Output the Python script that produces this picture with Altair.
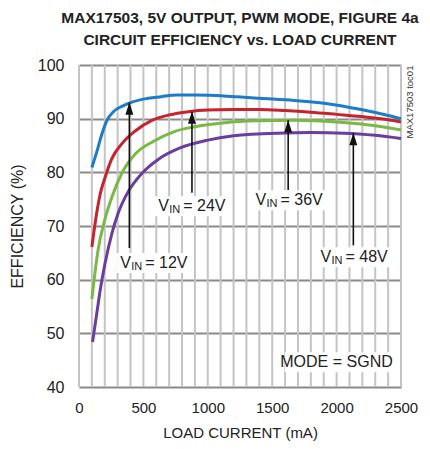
import altair as alt
import pandas as pd

# ---- data ----
ma_12 = [100, 138, 176, 215, 267, 332, 400, 490, 640, 760, 900, 1150, 1400, 1670, 1930, 2190, 2400, 2500]
eff_12 = [80.9, 83.8, 87.0, 89.6, 91.3, 92.3, 93.0, 93.6, 94.1, 94.4, 94.4, 94.2, 93.8, 93.4, 92.8, 91.7, 90.6, 90.0]

ma_24 = [100, 138, 165, 202, 254, 332, 436, 566, 700, 850, 1000, 1200, 1400, 1600, 1800, 2000, 2190, 2400, 2500]
eff_24 = [66.1, 72.5, 76.0, 79.0, 82.5, 85.3, 87.7, 89.7, 90.7, 91.3, 91.6, 91.7, 91.7, 91.5, 91.2, 90.8, 90.4, 89.8, 89.4]

ma_36 = [100, 125, 150, 202, 254, 332, 440, 580, 740, 900, 1150, 1400, 1670, 2000, 2190, 2400, 2500]
eff_36 = [56.4, 61.5, 65.8, 71.3, 75.3, 79.8, 83.5, 85.8, 87.6, 88.5, 89.3, 89.6, 89.7, 89.4, 89.0, 88.3, 87.9]

ma_48 = [105, 138, 163, 202, 254, 306, 384, 488, 620, 780, 1000, 1200, 1540, 1800, 2060, 2300, 2500]
eff_48 = [48.4, 53.7, 57.8, 63.0, 68.5, 72.5, 76.5, 79.8, 82.5, 84.5, 86.0, 86.8, 87.3, 87.4, 87.3, 86.9, 86.3]

series = ["12V", "24V", "36V", "48V"]
colors = ["#1c7cc7", "#c5232e", "#7bb844", "#6a3d9e"]

x_ticks = [0, 500, 1000, 1500, 2000, 2500]
x_minor = list(range(0, 2501, 100))
y_ticks = [40, 50, 60, 70, 80, 90, 100]

# annotation arrows: x (mA), tip (eff %), tail (eff %)
arrow_x = [391, 877, 1624, 2130]
arrow_tip = [93.0, 91.3, 89.7, 87.3]
arrow_tail = [65.9, 76.2, 76.7, 66.4]

# labels: left x (mA), centre (eff %), text after subscript
label_x = [320, 615, 1370, 1875]
label_y = [63.1, 73.7, 74.8, 64.2]
label_rest = ["= 12V", "= 24V", "= 36V", "= 48V"]

mode_text = "MODE = SGND"
mode_x = 2436
mode_y = 44.6

side_text = "MAX17503 toc01"
side_x = 2500
side_y = 93.1

title_lines = ["MAX17503, 5V OUTPUT, PWM MODE, FIGURE 4a", "CIRCUIT EFFICIENCY vs. LOAD CURRENT"]
x_title = "LOAD CURRENT (mA)"
y_title = "EFFICIENCY (%)"

FONT = "Liberation Sans, Arial, sans-serif"

# ---- tables ----
rows = []
for s, xs_, ys_ in zip(series, [ma_12, ma_24, ma_36, ma_48], [eff_12, eff_24, eff_36, eff_48]):
    for a, b in zip(xs_, ys_):
        rows.append({"series": s, "ma": a, "eff": b})
curves = pd.DataFrame(rows)
arrows = pd.DataFrame({"x": arrow_x, "tip": arrow_tip, "tail": arrow_tail})
labels = pd.DataFrame({"x": label_x, "y": label_y, "rest": label_rest})
mode_df = pd.DataFrame({"x": [mode_x], "y": [mode_y], "t": [mode_text]})
side_df = pd.DataFrame({"x": [side_x], "y": [side_y], "t": [side_text]})
grid_df = pd.DataFrame({"g": x_minor})

xs = alt.Scale(domain=[0, 2500], nice=False, zero=False)
ys = alt.Scale(domain=[40, 100], nice=False, zero=False)

x_axis = alt.Axis(
    values=x_ticks,
    labelOverlap=False, labelFlush=False,
    format="d",
    grid=False,
    ticks=False, domain=False,
    labelFont=FONT, labelFontSize=15, labelColor="#222", labelPadding=13,
    title=x_title, titleFont=FONT, titleFontSize=15, titleFontWeight="normal",
    titleColor="#222", titlePadding=10,
)
y_axis = alt.Axis(
    values=y_ticks,
    labelOverlap=False, labelFlush=False,
    grid=True, gridColor="#8a8a8a", gridWidth=2,
    ticks=False, domain=False,
    labelFont=FONT, labelFontSize=16, labelColor="#222", labelPadding=15,
    title=y_title, titleFont=FONT, titleFontSize=16, titleFontWeight="normal",
    titleColor="#222", titlePadding=12,
)

vgrid = alt.Chart(grid_df).mark_rule(color="#c4c4c4", strokeWidth=2).encode(
    x=alt.X("g:Q", scale=xs, axis=x_axis)
)

lines = alt.Chart(curves).mark_line(strokeWidth=3, interpolate="monotone").encode(
    x=alt.X("ma:Q", scale=xs, axis=x_axis),
    y=alt.Y("eff:Q", scale=ys, axis=y_axis),
    color=alt.Color("series:N", scale=alt.Scale(domain=series, range=colors), legend=None),
    detail="series:N",
)

boxes = alt.Chart(labels).mark_rect(color="white", xOffset=-4, x2Offset=70, yOffset=-10, y2Offset=10).encode(
    x="x:Q", x2="x:Q", y="y:Q", y2="y:Q"
)

shafts = alt.Chart(arrows).mark_rule(color="#111", strokeWidth=1.6).encode(
    x="x:Q", y="tip:Q", y2="tail:Q"
)
heads = alt.Chart(arrows).mark_point(
    shape="M0,-1L0.65,1L-0.65,1Z", filled=True, color="#111", opacity=1, size=150, yOffset=6
).encode(x="x:Q", y="tip:Q")

t_v = alt.Chart(labels).mark_text(text="V", align="left", baseline="middle", font=FONT,
                                   fontSize=16, color="#222").encode(x="x:Q", y="y:Q")
t_in = alt.Chart(labels).mark_text(text="IN", align="left", baseline="middle", font=FONT,
                                    fontSize=11, color="#222", dx=11, dy=4).encode(x="x:Q", y="y:Q")
t_rest = alt.Chart(labels).mark_text(align="left", baseline="middle", font=FONT,
                                      fontSize=16, color="#222", dx=25).encode(
    x="x:Q", y="y:Q", text="rest:N")

mode_box = alt.Chart(mode_df).mark_rect(color="white", xOffset=-108, x2Offset=4, yOffset=-10, y2Offset=10).encode(
    x="x:Q", x2="x:Q", y="y:Q", y2="y:Q")
mode_t = alt.Chart(mode_df).mark_text(align="right", baseline="middle", font=FONT, fontSize=16,
                                      color="#222").encode(x="x:Q", y="y:Q", text="t:N")

side_t = alt.Chart(side_df).mark_text(align="center", baseline="middle", angle=270, dy=9,
                                      font=FONT, fontSize=9.5,
                                      color="#333").encode(x="x:Q", y="y:Q", text="t:N")

chart = alt.layer(vgrid, lines, boxes, mode_box, shafts, heads, t_v, t_in, t_rest, mode_t, side_t).properties(
    width=322, height=322,
    autosize=alt.AutoSizeParams(type="none"),
    padding={"left": 71, "top": 57, "right": 21, "bottom": 54},
    title=alt.TitleParams(text=title_lines, font=FONT, fontSize=15.5, fontWeight="bold",
                          color="#222", anchor="middle", offset=9, lineHeight=22),
).configure_view(stroke="#222", strokeWidth=3).configure(background="white")

chart.save("out.html", embed_options={"renderer": "svg", "actions": False})
